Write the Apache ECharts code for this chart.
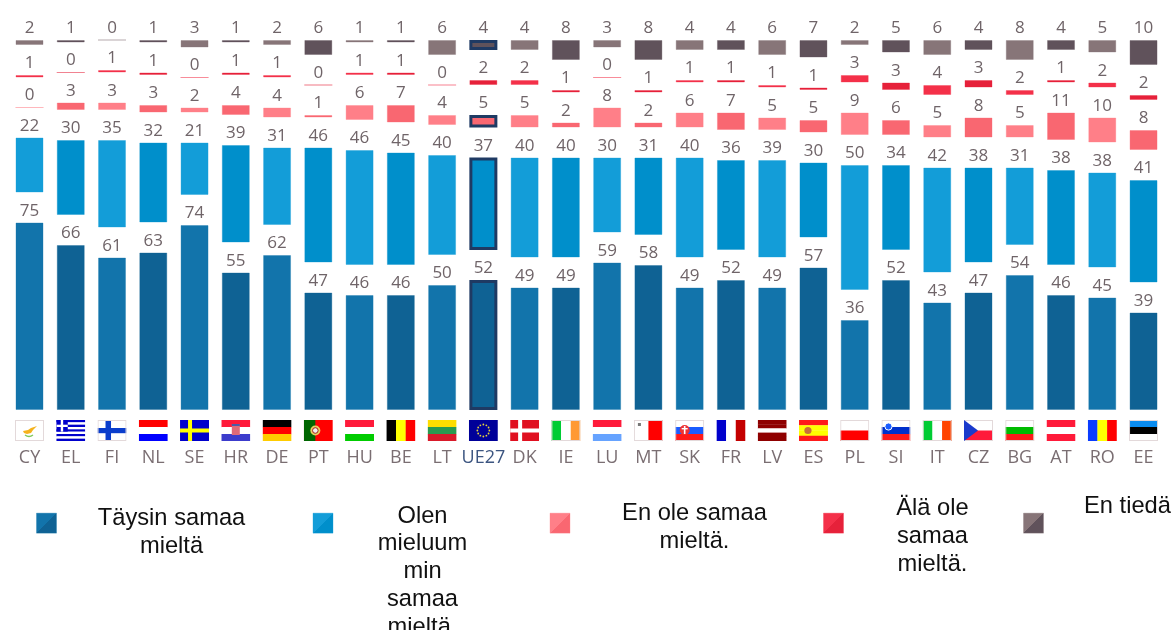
<!DOCTYPE html>
<html><head><meta charset="utf-8">
<style>html,body{margin:0;padding:0;background:#fff;overflow:hidden}#c{width:1172px;height:630px}</style>
<script src="https://cdn.jsdelivr.net/npm/echarts@6/dist/echarts.min.js"></script>
</head><body><div id="c"></div>
<script>
const categories = ['CY','EL','FI','NL','SE','HR','DE','PT','HU','BE','LT','UE27','DK','IE','LU','MT','SK','FR','LV','ES','PL','SI','IT','CZ','BG','AT','RO','EE'];
const fullyAgree   = [75,66,61,63,74,55,62,47,46,46,50,52,49,49,59,58,49,52,49,57,36,52,43,47,54,46,45,39];
const ratherAgree  = [22,30,35,32,21,39,31,46,46,45,40,37,40,40,30,31,40,36,39,30,50,34,42,38,31,38,38,41];
const ratherNot    = [0,3,3,3,2,4,4,1,6,7,4,5,5,2,8,2,6,7,5,5,9,6,5,8,5,11,10,8];
const fullyNot     = [1,0,1,1,0,1,1,0,1,1,0,2,2,1,0,1,1,1,1,1,3,3,4,3,2,1,2,2];
const dontKnow     = [2,1,0,1,3,1,2,6,1,1,6,4,4,8,3,8,4,4,6,7,2,5,6,4,8,4,5,10];
const seriesNames  = ['Täysin samaa mieltä','Olen mieluummin samaa mieltä','En ole samaa mieltä.','Älä ole samaa mieltä.','En tiedä'];
const legendLines  = [['Täysin samaa','mieltä'],['Olen','mieluum','min','samaa','mieltä.'],['En ole samaa','mieltä.'],['Älä ole','samaa','mieltä.'],['En tiedä']];

const colors = [['#1274ab','#0f6294'],['#139dd8','#008fcb'],['#ff7f88','#f96771'],['#f43049','#e6213a'],['#877578','#60525b']];
const GAP = 12, NAVY = '#1f3a63', EU_INDEX = categories.indexOf('UE27');
const swatchX = [36,312.5,549.5,823,1023], textCenter = [171,422,694,932,1127], textOffset = [9,48.5,4,13.5,-16.5];

const W = 29, H = 21;
const frame = '<rect x=".5" y=".5" width="28" height="20" fill="none" stroke="#e3d9da"/>';
const hs = c => c.map((x,i)=>`<rect y="${i*H/c.length}" width="${W}" height="${H/c.length+.2}" fill="${x}"/>`).join('');
const vs = c => c.map((x,i)=>`<rect x="${i*W/c.length}" width="${W/c.length+.2}" height="${H}" fill="${x}"/>`).join('');
let euStars = '';
[[14.5,4.5],[17.5,5.3],[19.7,7.5],[20.5,10.5],[19.7,13.5],[17.5,15.7],[14.5,16.5],[11.5,15.7],[9.3,13.5],[8.5,10.5],[9.3,7.5],[11.5,5.3]].forEach(p=>{euStars+=`<circle cx="${p[0]}" cy="${p[1]}" r=".9" fill="#e6d23c"/>`});
let elStripes=''; for(let i=0;i<9;i++){elStripes+=`<rect y="${i*H/9}" width="29" height="${H/9+.1}" fill="${i%2?'#fff':'#0000cc'}"/>`}
const flagSvg = {
  CY: '<rect width="29" height="21" fill="#fff"/><path d="M8 11l5-1 3-2 6-2-4 4-2 3-4 1-3-1z" fill="#f5b21c"/><path d="M10 15q4 3 8 0" fill="none" stroke="#7fc95a" stroke-width="1.4"/>'+frame,
  EL: elStripes+'<rect width="11.5" height="11.6" fill="#0000cc"/><rect x="4.5" width="2.4" height="11.6" fill="#fff"/><rect y="4.7" width="11.5" height="2.3" fill="#fff"/>',
  FI: '<rect width="29" height="21" fill="#fff"/><rect x="8" width="5.5" height="21" fill="#0a3dcc"/><rect y="8" width="29" height="5.2" fill="#0a3dcc"/>'+frame,
  NL: hs(['#ff0000','#ffffff','#0000ff']),
  SE: '<rect width="29" height="21" fill="#0000cc"/><rect x="8" width="4" height="21" fill="#ffff00"/><rect y="8.5" width="29" height="4" fill="#ffff00"/>',
  HR: hs(['#ff1a3a','#ffffff','#3c3ccc'])+'<rect x="10.5" y="4" width="8" height="11" fill="#e06a78"/><rect x="10.5" y="4" width="8" height="2" fill="#4a5aa8"/>',
  DE: hs(['#000000','#ff0000','#ffcc00']),
  PT: '<rect width="29" height="21" fill="#ff0000"/><rect width="11.5" height="21" fill="#006600"/><circle cx="11.5" cy="10.5" r="5" fill="#e8d060"/><circle cx="11.5" cy="10.5" r="2.8" fill="#f4f0f0" stroke="#a02020"/>',
  HU: hs(['#ff1a3a','#ffffff','#00cc00']),
  BE: vs(['#000000','#ffff00','#ff0000']),
  LT: hs(['#ffdd00','#2a9a50','#d91a2a']),
  UE27: '<rect width="29" height="21" fill="#000099"/>'+euStars,
  DK: '<rect width="29" height="21" fill="#e01020"/><rect x="8" width="4" height="21" fill="#fff"/><rect y="8.5" width="29" height="4" fill="#fff"/>',
  IE: vs(['#00cc33','#ffffff','#ff9933'])+frame,
  LU: hs(['#ff1a3a','#ffffff','#66a3ff']),
  MT: vs(['#ffffff','#ff0000'])+frame+'<rect x="4" y="3" width="3" height="3" fill="#777"/>',
  SK: hs(['#ffffff','#1a5cff','#ff1a1a'])+frame+'<circle cx="9.5" cy="10" r="5" fill="#e33"/><rect x="8.7" y="6" width="1.6" height="8" fill="#fff"/><rect x="6.5" y="8" width="6" height="1.4" fill="#fff"/>',
  FR: vs(['#0000cc','#ffffff','#c40000']),
  LV: hs(['#8f0000','#8f0000','#ffffff','#8f0000','#8f0000']),
  ES: hs(['#ff1a1a','#ffff00','#ffff00','#ff1a1a'])+'<circle cx="9" cy="10.5" r="3.6" fill="#c8703a"/>',
  PL: hs(['#ffffff','#ff0000'])+frame,
  SI: hs(['#ffffff','#0030cc','#ff1a1a'])+frame+'<circle cx="7" cy="6.5" r="3.6" fill="#1a5cff" stroke="#fff"/>',
  IT: vs(['#00cc33','#ffffff','#ff4400'])+frame,
  CZ: hs(['#ffffff','#ff1a3a'])+frame+'<path d="M0 0L14 10.5L0 21Z" fill="#1a3acc"/>',
  BG: hs(['#ffffff','#00bb00','#ff1a1a'])+frame,
  AT: hs(['#ff1a3a','#ffffff','#ff1a3a']),
  RO: vs(['#0a3cff','#ffff00','#ff0000']),
  EE: hs(['#0a8cf0','#000000','#ffffff'])+frame
};
const flagUri = k => 'data:image/svg+xml;charset=utf-8,'+encodeURIComponent(`<svg xmlns="http://www.w3.org/2000/svg" width="29" height="21" viewBox="0 0 29 21">${flagSvg[k]}</svg>`);

const rich = {
  name: {fontSize:18, color:'#7a6e72', lineHeight:34, fontFamily:'"Open Sans"', align:'center'},
  nameEU: {fontSize:18, color:'#3c5580', lineHeight:34, fontFamily:'"Open Sans"', align:'center'}
};
categories.forEach((k,i)=>{ rich['f'+i] = {width:29, height:21, lineHeight:21, align:'center', backgroundColor:{image:flagUri(k)}}; });

const valueSets = [fullyAgree, ratherAgree, ratherNot, fullyNot, dontKnow];
const series = [];
valueSets.forEach((vals,s)=>{
  series.push({
    name: seriesNames[s], type:'bar', stack:'a', barWidth:28, animation:false,
    label:{show:true, position:'top', distance:3, fontSize:17, color:'#6f6468', fontFamily:'"Open Sans"'},
    data: vals.map((v,i)=>{
      const c = colors[s][i%2];
      const euFrame = i===EU_INDEX && s!==3;
      return {value:v, itemStyle:{color:c, borderColor: euFrame?NAVY:c+'55', borderWidth: euFrame?3:1}};
    })
  });
  if (s<4) series.push({type:'bar', stack:'a', barWidth:28, silent:true, animation:false, itemStyle:{color:'transparent'}, data:vals.map(()=>GAP)});
});

const legends = seriesNames.map((n,s)=>{
  const lh = 27.7, off = textOffset[s], w = 2*(textCenter[s]-swatchX[s]-25);
  const textTop = 525+off-legendLines[s].length*lh/2;
  return {
    data:[{name:n, itemStyle:{color:{type:'linear',x:0,y:0,x2:1,y2:1,colorStops:[{offset:0,color:colors[s][0]},{offset:.5,color:colors[s][0]},{offset:.5,color:colors[s][1]},{offset:1,color:colors[s][1]}]}, borderColor:colors[s][0]+'55', borderWidth:1}}],
    left:swatchX[s], top:Math.min(textTop,514), padding:0, itemWidth:20, itemHeight:20, icon:'rect', selectedMode:false,
    formatter:()=>legendLines[s].map(l=>`{c|${l}}`).join('\n'),
    textStyle:{padding: off>=0?[2*off,0,0,0]:[0,0,-2*off,0], rich:{c:{width:w, align:'center', lineHeight:lh, fontSize:23.7, color:'#111', fontFamily:'"Liberation Sans"'}}}
  };
});

const chart = echarts.init(document.getElementById('c'), null, {renderer:'canvas'});
chart.setOption({
  animation:false, backgroundColor:'#fff',
  grid:{left:8.87, width:1155.3, top:0, bottom:220},
  xAxis:{type:'category', data:categories, axisLine:{show:false}, axisTick:{show:false},
    axisLabel:{interval:0, margin:10, rich, formatter:(v,i)=>`{f${i}| }\n{${v==='UE27'?'nameEU':'name'}|${v}}`}},
  yAxis:{type:'value', min:0, max:164, show:false, splitLine:{show:false}},
  legend:legends,
  tooltip:{show:false},
  series
});
</script></body></html>
